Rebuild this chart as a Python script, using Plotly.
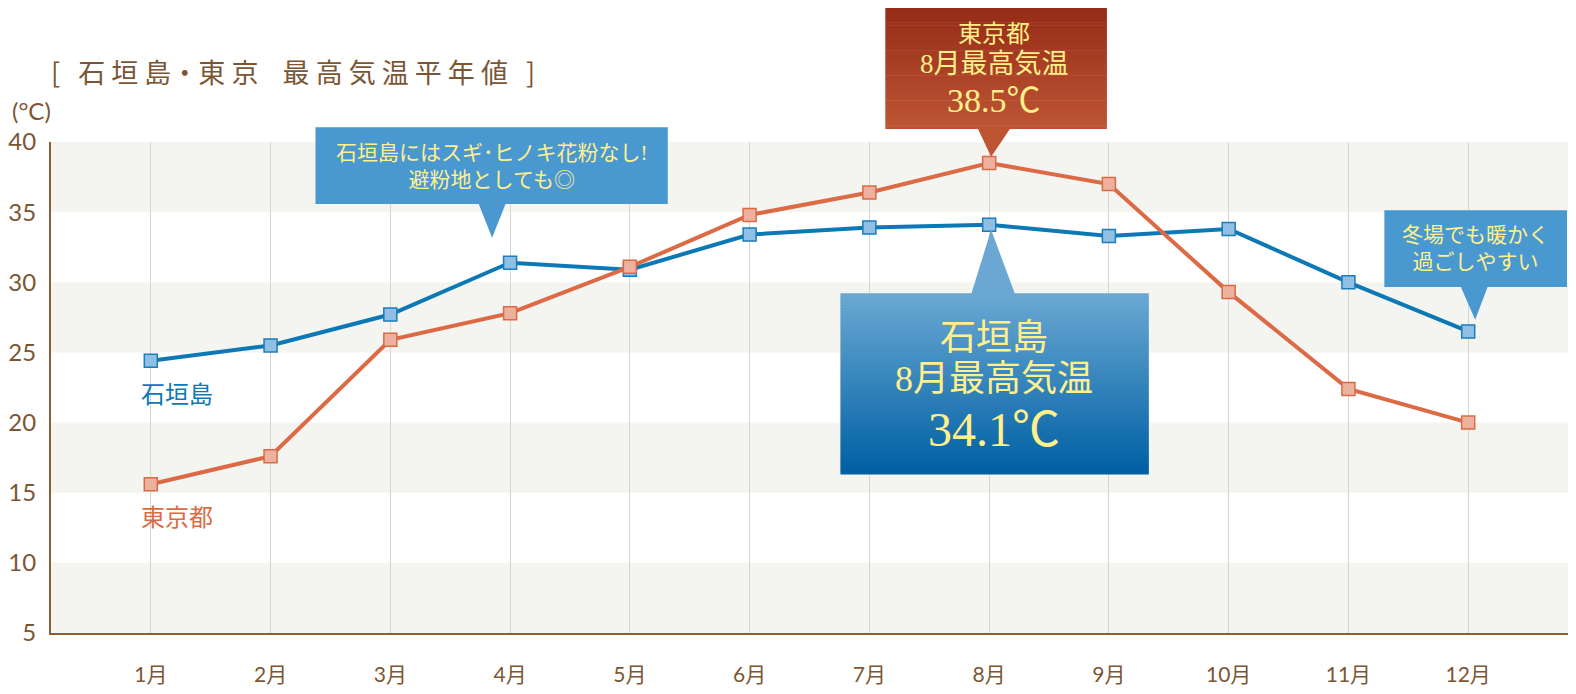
import plotly.graph_objects as go

months = ["1月", "2月", "3月", "4月", "5月", "6月", "7月", "8月", "9月", "10月", "11月", "12月"]
month_no = list(range(1, 13))
ishigaki = [24.4, 25.5, 27.7, 31.4, 30.9, 33.4, 33.9, 34.1, 33.3, 33.8, 30.0, 26.5]
tokyo = [15.6, 17.6, 25.9, 27.8, 31.1, 34.8, 36.4, 38.5, 37.0, 29.3, 22.4, 20.0]
y_ticks = [5, 10, 15, 20, 25, 30, 35, 40]

# the page body has an 8px margin, so the figure is 16px smaller than the window
OFF = 8
W, H = 1576 - 2 * OFF, 694 - 2 * OFF
# plot area in window pixels
X0, X1, Y0, Y1 = 48, 1568, 142, 645
BROWN = "#7b5634"
YELLOW = "#fff08c"
CJK = "Noto Sans CJK JP"
SERIF = "Liberation Serif, Noto Sans CJK JP"


def px(x):
    return (x - X0) / (X1 - X0)


def py(y):
    return (Y1 - y) / (Y1 - Y0)


def mix(c1, c2, t):
    a = [int(c1[i:i + 2], 16) for i in (1, 3, 5)]
    b = [int(c2[i:i + 2], 16) for i in (1, 3, 5)]
    return "#" + "".join("%02x" % round(a[k] + (b[k] - a[k]) * t) for k in range(3))


shapes = []
# alternating bands
for lo in range(5, 40, 10):
    shapes.append(dict(type="rect", xref="paper", yref="y", x0=0, x1=1, y0=lo, y1=lo + 5,
                       fillcolor="#f4f4f0", line_width=0, layer="below"))


def callout(x0, y0, x1, y1, tri, top, bottom, steps=1):
    # tri = (base_left, base_right, base_y, tip_x, tip_y)
    bl, br, by, tx, ty = tri
    tri_col = top if ty < y0 else bottom
    shapes.append(dict(type="path", xref="paper", yref="paper",
                       path="M %f %f L %f %f L %f %f Z" % (px(bl), py(by), px(br), py(by), px(tx), py(ty)),
                       fillcolor=tri_col, line_width=0))
    h = (y1 - y0) / steps
    for i in range(steps):
        shapes.append(dict(type="rect", xref="paper", yref="paper",
                           x0=px(x0), x1=px(x1), y0=py(y0 + h * i), y1=py(y0 + h * (i + 1) + 0.6),
                           fillcolor=mix(top, bottom, i / max(steps - 1, 1)), line_width=0))


callout(313, 127, 666, 205, (476, 504, 204, 490, 240), "#4a98d0", "#4a98d0")
callout(1384, 212, 1567, 290, (1460, 1488, 289, 1475, 324), "#4a98d0", "#4a98d0")
callout(884, 0, 1106, 128, (976, 1010, 127, 990, 157), "#952a16", "#bd5534", steps=40)
callout(839, 297, 1148, 482, (970, 1014, 298, 990, 232), "#6aa8d3", "#0060a3", steps=60)

fig = go.Figure()
fig.add_trace(go.Scatter(
    x=month_no, y=ishigaki, mode="lines+markers", name="石垣島",
    line=dict(color="#0c78b5", width=4),
    marker=dict(symbol="square", size=13, color="#8fc0e3", line=dict(color="#1a7cbc", width=1.5)),
    cliponaxis=False,
))
fig.add_trace(go.Scatter(
    x=month_no, y=tokyo, mode="lines+markers", name="東京都",
    line=dict(color="#dc6a44", width=4),
    marker=dict(symbol="square", size=13, color="#ecb29f", line=dict(color="#dc6a44", width=1.5)),
    cliponaxis=False,
))

annotations = [
    dict(text="[   石 垣 島・東 京    最 高 気 温 平 年 値   ]", x=px(46), y=py(70), xanchor="left",
         font=dict(family=CJK, size=27, color=BROWN)),
    dict(text="(°C)", x=px(7), y=py(110), xanchor="left", font=dict(family="Lato", size=24, color=BROWN)),
    dict(text="石垣島", x=px(136), y=py(399), xanchor="left", font=dict(family=CJK, size=24, color="#0c78b5")),
    dict(text="東京都", x=px(136), y=py(525), xanchor="left", font=dict(family=CJK, size=24, color="#dc6a44")),
    dict(text="石垣島にはスギ･ヒノキ花粉なし!<br>避粉地としても◎", x=px(490), y=py(167),
         font=dict(family=SERIF, size=21, color=YELLOW)),
    dict(text="冬場でも暖かく<br>過ごしやすい", x=px(1475), y=py(251),
         font=dict(family=SERIF, size=21, color=YELLOW)),
    dict(text="東京都", x=px(993), y=py(31), font=dict(family=SERIF, size=24, color=YELLOW)),
    dict(text="8月最高気温", x=px(993), y=py(62), font=dict(family=SERIF, size=27, color=YELLOW)),
    dict(text="38.5℃", x=px(993), y=py(99), font=dict(family=SERIF, size=34, color=YELLOW)),
    dict(text="石垣島", x=px(993), y=py(343), font=dict(family=SERIF, size=36, color=YELLOW)),
    dict(text="8月最高気温", x=px(993), y=py(385), font=dict(family=SERIF, size=36, color=YELLOW)),
    dict(text="34.1℃", x=px(993), y=py(437), font=dict(family=SERIF, size=48, color=YELLOW)),
]
for a in annotations:
    a.update(xref="paper", yref="paper", showarrow=False, yanchor="middle")
    a.setdefault("xanchor", "center")

fig.update_layout(
    width=W, height=H,
    margin=dict(l=X0 - OFF, r=W - (X1 - OFF), t=Y0 - OFF, b=H - (Y1 - OFF)),
    plot_bgcolor="white", paper_bgcolor="white",
    showlegend=False,
    shapes=shapes,
    annotations=annotations,
)
fig.update_xaxes(
    range=[0.1667, 12.8333], tickvals=month_no, ticktext=months,
    showgrid=True, gridcolor="#ddd3c8", gridwidth=1,
    showline=True, linecolor="#8a5e36", linewidth=2, zeroline=False,
    tickfont=dict(family="Lato, " + CJK, size=21, color=BROWN),
    ticklabelstandoff=22,
)
fig.update_yaxes(
    range=[5, 40], tickvals=y_ticks,
    showgrid=False, zeroline=False,
    showline=True, linecolor="#8a5e36", linewidth=2,
    tickfont=dict(family="Lato", size=24, color=BROWN),
    ticklabelstandoff=8,
)

fig.write_html("out.html")
